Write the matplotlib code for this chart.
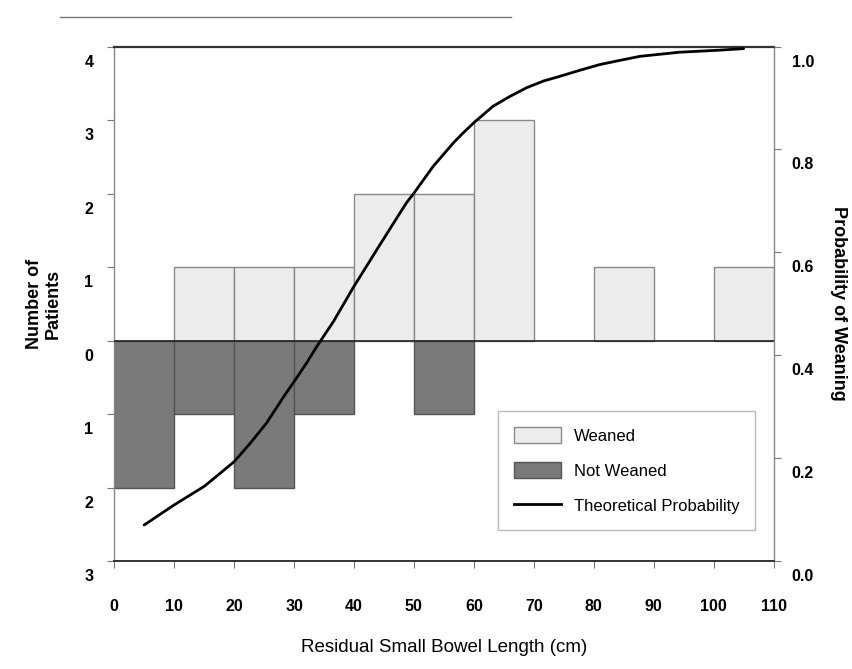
import numpy as np
import matplotlib.pyplot as plt
import matplotlib.transforms as mtransforms
from matplotlib.lines import Line2D
from matplotlib.patches import Patch

plt.rcParams['font.family'] = ['Liberation Sans', 'DejaVu Sans']

# histogram bins (cm, left edges, width 10)
bin_left = [0, 10, 20, 30, 40, 50, 60, 70, 80, 90, 100]
weaned = [0, 1, 1, 1, 2, 2, 3, 0, 1, 0, 1]
not_weaned = [2, 1, 2, 1, 0, 1, 0, 0, 0, 0, 0]

# theoretical probability curve
curve_x = [5, 10, 15, 17, 20, 22.7, 25.4, 28.2, 30.2, 32.1, 33.8, 36.6, 38.2, 40, 42.1, 43.8,
           47.7, 48.8, 50, 51.6, 53.2, 54.9, 56.6, 58.2, 60, 61.6, 63.2, 66, 68.8, 71.6,
           74.3, 77.7, 81, 84.3, 87.7, 94.3, 101, 105]
curve_p = [0.070, 0.109, 0.145, 0.164, 0.193, 0.229, 0.268, 0.318, 0.352, 0.385, 0.417, 0.466,
           0.498, 0.534, 0.573, 0.605, 0.677, 0.697, 0.715, 0.741, 0.767, 0.790, 0.813, 0.832,
           0.852, 0.868, 0.884, 0.903, 0.920, 0.933, 0.942, 0.954, 0.965, 0.973, 0.981,
           0.989, 0.993, 0.996]

left_ticks = [-3, -2, -1, 0, 1, 2, 3, 4]
left_labels = ['3', '2', '1', '0', '1', '2', '3', '4']
right_ticks = [0.0, 0.2, 0.4, 0.6, 0.8, 1.0]
x_ticks = [0, 10, 20, 30, 40, 50, 60, 70, 80, 90, 100, 110]

fig = plt.figure(figsize=(8.52, 6.69), dpi=100)
ax = fig.add_axes([0.134, 0.1614, 0.774, 0.769])

w_bars = [(b, h) for b, h in zip(bin_left, weaned) if h > 0]
n_bars = [(b, h) for b, h in zip(bin_left, not_weaned) if h > 0]
ax.bar([b for b, h in w_bars], [h for b, h in w_bars], width=10, align='edge',
       color='#ececec', edgecolor='#8a8a8a', linewidth=1.0, zorder=2)
ax.bar([b for b, h in n_bars], [-h for b, h in n_bars], width=10, align='edge',
       color='#7a7a7a', edgecolor='#555555', linewidth=1.0, zorder=2)
ax.axhline(0, color='#222222', linewidth=1.2, zorder=3)

ax.set_xlim(0, 110)
ax.set_ylim(-3, 4)
ax.set_xticks(x_ticks)
ax.set_yticks(left_ticks)
ax.set_yticklabels(left_labels)
ax.tick_params(axis='both', direction='out', length=5, color='#777777',
               labelsize=11.5)
ax.tick_params(axis='x', pad=22)
ax.tick_params(axis='y', pad=10)
for lab in ax.get_xticklabels() + ax.get_yticklabels():
    lab.set_fontweight('bold')

off = mtransforms.ScaledTranslation(0, -0.14, fig.dpi_scale_trans)
for lab in ax.get_yticklabels():
    lab.set_transform(lab.get_transform() + off)

for side in ['left', 'right']:
    ax.spines[side].set_color('#888888')
    ax.spines[side].set_linewidth(1.0)
ax.spines['top'].set_color('#333333')
ax.spines['top'].set_linewidth(1.6)
ax.spines['bottom'].set_color('#333333')
ax.spines['bottom'].set_linewidth(1.4)

ax.set_xlabel('Residual Small Bowel Length (cm)', fontsize=13.5, labelpad=18)
ax.set_ylabel('Number of\nPatients', fontsize=13, fontweight='bold', labelpad=16)

ax2 = ax.twinx()
ax2.plot(curve_x, curve_p, color='black', linewidth=2.0, zorder=4,
         solid_joinstyle='round', solid_capstyle='round')
ax2.set_ylim(0, 1.0)
ax2.set_yticks(right_ticks)
ax2.set_yticklabels(['%.1f' % t for t in right_ticks])
ax2.tick_params(axis='y', direction='out', length=5, color='#777777',
                labelsize=11.5, pad=8)
for lab in ax2.get_yticklabels():
    lab.set_fontweight('bold')
    lab.set_transform(lab.get_transform() + off)
for sp in ax2.spines.values():
    sp.set_visible(False)
ax2.set_ylabel('Probability of Weaning', fontsize=13, fontweight='bold',
               rotation=-90, labelpad=24)

handles = [Patch(facecolor='#ececec', edgecolor='#8a8a8a', label='Weaned'),
           Patch(facecolor='#7a7a7a', edgecolor='#555555', label='Not Weaned'),
           Line2D([0], [0], color='black', linewidth=2.0, label='Theoretical Probability')]
leg = ax2.legend(handles=handles, loc='lower right', bbox_to_anchor=(0.985, 0.045),
                 fontsize=12, frameon=True, fancybox=False, edgecolor='#aaaaaa',
                 handlelength=2.8, handleheight=1.1, labelspacing=1.1,
                 borderpad=0.95, handletextpad=0.8)
leg.get_frame().set_linewidth(1.0)

# rule at top of page
fig.add_artist(Line2D([0.07, 0.60], [0.975, 0.975], color='#777777', linewidth=1.0,
                      transform=fig.transFigure))

fig.savefig('out.png', dpi=100)
